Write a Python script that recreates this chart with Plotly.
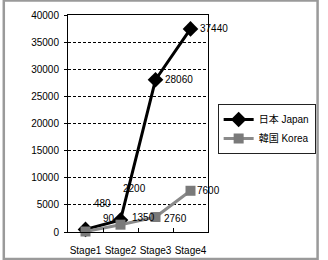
import plotly.graph_objects as go

categories = ["Stage1", "Stage2", "Stage3", "Stage4"]
japan = [480, 2200, 28060, 37440]
korea = [90, 1350, 2760, 7600]
japan_name = "日本 Japan"
korea_name = "韓国 Korea"
y_ticks = [0, 5000, 10000, 15000, 20000, 25000, 30000, 35000, 40000]

# label offsets in pixels (style)
japan_off = [(17, -26), (14, -32), (23, 0), (23, 0)]
korea_off = [(23, -13), (23, -7), (20, 1), (18, 0)]

W, H = 328, 260
ML, MR, MT, MB = 68, 115, 15, 28
PW, PH = W - ML - MR, H - MT - MB
FONT = "Liberation Sans, Noto Sans CJK JP, sans-serif"

fig = go.Figure()
fig.add_trace(go.Scatter(x=categories, y=japan, name=japan_name, mode="lines+markers",
                         line=dict(color="black", width=3),
                         marker=dict(symbol="diamond", size=12, color="black"),
                         cliponaxis=False))
fig.add_trace(go.Scatter(x=categories, y=korea, name=korea_name, mode="lines+markers",
                         line=dict(color="#8a8a8a", width=3),
                         marker=dict(symbol="square", size=10, color="#7a7a7a"),
                         cliponaxis=False))

anns = []
for vals, offs in ((japan, japan_off), (korea, korea_off)):
    for c, v, (dx, dy) in zip(categories, vals, offs):
        anns.append(dict(x=c, y=v, text=str(v), showarrow=False, xshift=dx, yshift=-dy,
                         font=dict(size=10, color="black", family=FONT)))

fig.update_layout(
    width=W, height=H,
    margin=dict(l=ML, r=MR, t=MT, b=MB),
    paper_bgcolor="white", plot_bgcolor="white",
    font=dict(family=FONT, size=10, color="black"),
    showlegend=True,
    legend=dict(x=(223 - ML) / PW, y=(MT + PH - 104) / PH, xanchor="left", yanchor="top",
                bordercolor="#222", borderwidth=1, font=dict(size=10, family=FONT),
                itemwidth=30, tracegroupgap=0),
    annotations=anns,
    shapes=[dict(type="rect", xref="paper", yref="paper",
                 x0=(1.5 - ML) / PW, x1=(326.5 - ML) / PW,
                 y0=(MT + PH - 259) / PH, y1=(MT + PH - 0.5) / PH,
                 line=dict(color="#9a9a9a", width=2.5), layer="below")],
)
fig.update_xaxes(type="category", range=[-0.5, 3.5], showgrid=False, showline=True,
                 linecolor="black", linewidth=1, mirror=True, ticks="inside",
                 tickson="boundaries", ticklen=4, tickcolor="black", tickangle=0,
                 ticklabelstandoff=9, automargin=False,
                 tickfont=dict(size=10, family=FONT))
fig.update_yaxes(range=[0, 40000], tickvals=y_ticks, ticktext=[str(t) for t in y_ticks],
                 showgrid=True, gridcolor="black",
                 griddash="3px,2px", gridwidth=1, zeroline=False, showline=True,
                 linecolor="black", linewidth=1, mirror=True, ticks="outside", ticklen=3,
                 ticklabelstandoff=3, automargin=False,
                 tickcolor="black", tickfont=dict(size=10, family=FONT))

fig.write_html("out.html")
